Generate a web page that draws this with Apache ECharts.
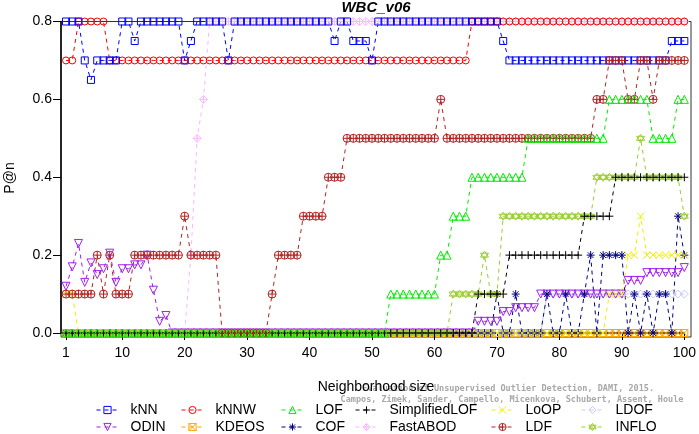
<!DOCTYPE html>
<html>
<head>
<meta charset="utf-8">
<script src="https://cdn.jsdelivr.net/npm/echarts@6.0.0/dist/echarts.min.js"></script>
<style>html,body{margin:0;padding:0;background:#fff;}#c{width:699px;height:434px;}</style>
</head>
<body>
<div id="c"></div>
<script>
// Neighborhood sizes k = 1..100 (categories)
const ks = [];
for (let k = 1; k <= 100; k++) ks.push(String(k));
const xTickLabels = ['1','10','20','30','40','50','60','70','80','90','100'];
const yTicks = [0.0, 0.2, 0.4, 0.6, 0.8];

const kNN = [
 0.8,0.8,0.8,0.7,0.65,0.7,0.7,0.7,0.7,0.8,
 0.8,0.75,0.8,0.8,0.8,0.8,0.8,0.8,0.8,0.7,
 0.75,0.8,0.8,0.8,0.8,0.8,0.7,0.8,0.8,0.8,
 0.8,0.8,0.8,0.8,0.8,0.8,0.8,0.8,0.8,0.8,
 0.8,0.8,0.8,0.75,0.8,0.8,0.75,0.75,0.75,0.7,
 0.8,0.8,0.8,0.8,0.8,0.8,0.8,0.8,0.8,0.8,
 0.8,0.8,0.8,0.8,0.8,0.8,0.8,0.8,0.8,0.8,
 0.75,0.7,0.7,0.7,0.7,0.7,0.7,0.7,0.7,0.7,
 0.7,0.7,0.7,0.7,0.7,0.7,0.7,0.7,0.7,0.7,
 0.7,0.7,0.7,0.7,0.7,0.7,0.7,0.75,0.75,0.75];
const kNNW = [
 0.7,0.7,0.8,0.8,0.8,0.8,0.8,0.7,0.7,0.7,
 0.7,0.7,0.7,0.7,0.7,0.7,0.7,0.7,0.7,0.7,
 0.7,0.7,0.7,0.7,0.7,0.7,0.7,0.7,0.7,0.7,
 0.7,0.7,0.7,0.7,0.7,0.7,0.7,0.7,0.7,0.7,
 0.7,0.7,0.7,0.7,0.7,0.7,0.7,0.7,0.7,0.7,
 0.7,0.7,0.7,0.7,0.7,0.7,0.7,0.7,0.7,0.7,
 0.7,0.7,0.7,0.7,0.7,0.8,0.8,0.8,0.8,0.8,
 0.8,0.8,0.8,0.8,0.8,0.8,0.8,0.8,0.8,0.8,
 0.8,0.8,0.8,0.8,0.8,0.8,0.8,0.8,0.8,0.8,
 0.8,0.8,0.8,0.8,0.8,0.8,0.8,0.8,0.8,0.8];
const LOF = [
 0,0,0,0,0,0,0,0,0,0,
 0,0,0,0,0,0,0,0,0,0,
 0,0,0,0,0,0,0,0,0,0,
 0,0,0,0,0,0,0,0,0,0,
 0,0,0,0,0,0,0,0,0,0,
 0,0,0.1,0.1,0.1,0.1,0.1,0.1,0.1,0.1,
 0.2,0.2,0.3,0.3,0.3,0.4,0.4,0.4,0.4,0.4,
 0.4,0.4,0.4,0.4,0.5,0.5,0.5,0.5,0.5,0.5,
 0.5,0.5,0.5,0.5,0.5,0.5,0.5,0.6,0.6,0.6,
 0.6,0.6,0.6,0.6,0.5,0.5,0.5,0.5,0.6,0.6];
const SimplifiedLOF = [
 0,0,0,0,0,0,0,0,0,0,
 0,0,0,0,0,0,0,0,0,0,
 0,0,0,0,0,0,0,0,0,0,
 0,0,0,0,0,0,0,0,0,0,
 0,0,0,0,0,0,0,0,0,0,
 0,0,0,0,0,0,0,0,0,0,
 0,0,0,0,0,0,0.1,0.1,0.1,0.1,
 0.1,0.2,0.2,0.2,0.2,0.2,0.2,0.2,0.2,0.2,
 0.2,0.2,0.2,0.3,0.3,0.3,0.3,0.3,0.4,0.4,
 0.4,0.4,0.4,0.4,0.4,0.4,0.4,0.4,0.4,0.4];
const LoOP = [
 0.1,0.1,0,0,0,0,0,0,0,0,
 0,0,0,0,0,0,0,0,0,0,
 0,0,0,0,0,0,0,0,0,0,
 0,0,0,0,0,0,0,0,0,0,
 0,0,0,0,0,0,0,0,0,0,
 0,0,0,0,0,0,0,0,0,0,
 0,0,0,0,0,0,0,0,0,0,
 0,0,0,0,0,0,0,0,0,0,
 0,0,0,0,0,0,0,0.1,0.1,0.1,
 0.2,0.2,0.3,0.2,0.2,0.2,0.2,0.2,0.2,0.2];
const LDOF = [
 0,0,0,0,0,0,0,0,0,0,
 0,0,0,0,0,0,0,0,0,0,
 0,0,0,0,0,0,0,0,0,0,
 0,0,0,0,0,0,0,0,0,0,
 0,0,0,0,0,0,0,0,0,0,
 0,0,0,0,0,0,0,0,0,0,
 0,0,0,0,0,0,0,0,0,0,
 0,0,0,0,0,0,0,0.1,0.1,0.1,
 0.1,0.1,0.1,0.1,0.1,0.1,0.1,0.1,0.1,0.1,
 0.1,0.1,0.1,0.1,0.1,0.1,0.1,0.1,0.1,0.1];
const ODIN = [
 0.12,0.17,0.23,0.13,0.18,0.15,0.165,0.205,0.13,0.165,
 0.165,0.175,0.175,0.2,0.11,0.03,0.045,0,0,0,
 0,0,0,0,0,0,0,0,0,0,
 0,0,0,0,0,0,0,0,0,0,
 0,0,0,0,0,0,0,0,0,0,
 0,0,0,0,0,0,0,0,0,0,
 0,0,0,0,0,0,0.03,0.03,0.03,0.03,
 0.055,0.055,0.065,0.065,0.065,0.065,0.1,0.1,0.1,0.1,
 0.1,0.1,0.1,0.1,0.1,0.1,0.1,0.1,0.1,0.1,
 0.135,0.135,0.135,0.155,0.155,0.155,0.155,0.155,0.155,0.168];
const KDEOS = [
 0,0,0,0,0,0,0,0,0,0,
 0,0,0,0,0,0,0,0,0,0,
 0,0,0,0,0,0,0,0,0,0,
 0,0,0,0,0,0,0,0,0,0,
 0,0,0,0,0,0,0,0,0,0,
 0,0,0,0,0,0,0,0,0,0,
 0,0,0,0,0,0,0,0,0,0,
 0,0,0,0,0,0,0,0,0,0,
 0,0,0,0,0,0,0,0,0,0,
 0,0,0,0,0,0,0,0,0,0];
const COF = [
 0,0,0,0,0,0,0,0,0,0,
 0,0,0,0,0,0,0,0,0,0,
 0,0,0,0,0,0,0,0,0,0,
 0,0,0,0,0,0,0,0,0,0,
 0,0,0,0,0,0,0,0,0,0,
 0,0,0,0,0,0,0,0,0,0,
 0,0,0,0,0,0,0,0,0,0.1,
 0,0,0.1,0,0,0,0,0.1,0,0,
 0.1,0,0,0.1,0.2,0,0.2,0.2,0.2,0.2,
 0,0.1,0,0.1,0,0.1,0.1,0,0.3,0.2];
const FastABOD = [
 0,0,0,0,0,0,0,0,0,0,
 0,0,0,0,0,0,0,0,0,0,
 0.2,0.5,0.6,0.8,0.8,0.8,0.8,0.8,0.8,0.8,
 0.8,0.8,0.8,0.8,0.8,0.8,0.8,0.8,0.8,0.8,
 0.8,0.8,0.8,0.8,0.8,0.8,0.8,0.8,0.8,0.8,
 0.8,0.8,0.8,0.8,0.8,0.8,0.8,0.8,0.8,0.8,
 0.8,0.8,0.8,0.8,0.8,0.8,0.8,0.8,0.8,0.8,
 0.8,0.8,0.8,0.8,0.8,0.8,0.8,0.8,0.8,0.8,
 0.8,0.8,0.8,0.8,0.8,0.8,0.8,0.8,0.8,0.8,
 0.8,0.8,0.8,0.8,0.8,0.8,0.8,0.8,0.8,0.8];
const LDF = [
 0.1,0.1,0.1,0.1,0.1,0.2,0.1,0.2,0.1,0.1,
 0.1,0.2,0.2,0.2,0.2,0.2,0.2,0.2,0.2,0.3,
 0.2,0.2,0.2,0.2,0.2,0,0,0,0,0,
 0,0,0,0.1,0.2,0.2,0.2,0.2,0.3,0.3,
 0.3,0.3,0.4,0.4,0.4,0.5,0.5,0.5,0.5,0.5,
 0.5,0.5,0.5,0.5,0.5,0.5,0.5,0.5,0.5,0.5,
 0.6,0.5,0.5,0.5,0.5,0.5,0.5,0.5,0.5,0.5,
 0.5,0.5,0.5,0.5,0.5,0.5,0.5,0.5,0.5,0.5,
 0.5,0.5,0.5,0.5,0.5,0.6,0.6,0.7,0.7,0.7,
 0.6,0.6,0.7,0.7,0.6,0.7,0.7,0.7,0.7,0.7];
const INFLO = [
 0,0,0,0,0,0,0,0,0,0,
 0,0,0,0,0,0,0,0,0,0,
 0,0,0,0,0,0,0,0,0,0,
 0,0,0,0,0,0,0,0,0,0,
 0,0,0,0,0,0,0,0,0,0,
 0,0,0,0,0,0,0,0,0,0,
 0,0,0.1,0.1,0.1,0.1,0.1,0.2,0.1,0.1,
 0.3,0.3,0.3,0.3,0.3,0.3,0.3,0.3,0.3,0.3,
 0.3,0.3,0.3,0.3,0.3,0.4,0.4,0.4,0.4,0.4,
 0.4,0.4,0.5,0.4,0.4,0.4,0.4,0.4,0.4,0.3];

const FONT = 'Liberation Sans, Arial, sans-serif';
const SYM = {
  square: 'rect',
  circle: 'circle',
  tri: 'triangle',
  plus: 'path://M5,0L5,10M0,5L10,5',
  cross: 'path://M0,0L10,10M0,10L10,0',
  diamond: 'diamond',
  sqx: 'path://M0,0L10,0L10,10L0,10ZM0,0L10,10M0,10L10,0',
  ast: 'path://M5,0L5,10M0,5L10,5M1.5,1.5L8.5,8.5M1.5,8.5L8.5,1.5',
  diaplus: 'path://M5,0L10,5L5,10L0,5ZM5,0L5,10M0,5L10,5',
  ciplus: 'path://M0,5A5,5,0,1,1,10,5A5,5,0,1,1,0,5ZM5,0L5,10M0,5L10,5',
  star: 'path://M5,0L9.33,7.5L0.67,7.5ZM5,10L0.67,2.5L9.33,2.5Z'
};

const COLORS = {};
function mk(name, data, color, symbol, size, rotate) {
  COLORS[name] = color;
  return {
    name: name, type: 'line', data: data,
    symbol: symbol, symbolSize: size, symbolRotate: rotate || 0,
    symbolKeepAspect: false, showAllSymbol: true, clip: false,
    color: color,
    itemStyle: { color: 'rgba(0,0,0,0)', borderColor: color, borderWidth: 1 },
    lineStyle: { color: color, width: 1, type: [4, 4] },
    emphasis: { disabled: true }, animation: false
  };
}

// draw order: first = bottom
const series = [
  mk('FastABOD', FastABOD, '#ffb8ff', SYM.diaplus, 8),
  mk('kNNW', kNNW, '#ff0000', SYM.circle, 7),
  mk('kNN', kNN, '#0000ff', SYM.square, 7),
  mk('KDEOS', KDEOS, '#ffa500', SYM.sqx, 7),
  mk('LDOF', LDOF, '#c8c8ff', SYM.diamond, 8),
  mk('ODIN', ODIN, '#a020f0', SYM.tri, 8, 180),
  mk('COF', COF, '#000080', SYM.ast, 8),
  mk('LoOP', LoOP, '#f0f000', SYM.cross, 7),
  mk('INFLO', INFLO, '#9acd32', SYM.star, 8),
  mk('SimplifiedLOF', SimplifiedLOF, '#000000', SYM.plus, 8),
  mk('LDF', LDF, '#b22222', SYM.ciplus, 8),
  mk('LOF', LOF, '#00ee00', SYM.tri, 8)
];

const legendCols = [['kNN','ODIN'],['kNNW','KDEOS'],['LOF','COF'],['SimplifiedLOF','FastABOD'],['LoOP','LDF'],['LDOF','INFLO']];
const legendLefts = [96, 181, 281, 355, 491, 581];
const legends = legendCols.map((d, i) => ({
  data: d.map(n => ({
    name: n,
    itemStyle: { color: 'rgba(0,0,0,0)', borderColor: COLORS[n], borderWidth: 1 },
    lineStyle: { color: COLORS[n], width: 1, type: [4, 4] }
  })),
  orient: 'vertical', left: legendLefts[i], top: 402, width: 130, height: 60,
  itemWidth: 22, itemHeight: 9, itemGap: 1, padding: 0, selectedMode: false,
  textStyle: { fontSize: 14, color: '#000', fontFamily: FONT, lineHeight: 16, padding: [0, 0, 0, 7] }
}));

function showTick(index, value) { return xTickLabels.indexOf(String(value)) >= 0; }

const chart = echarts.init(document.getElementById('c'), null, { renderer: 'canvas' });
chart.setOption({
  backgroundColor: '#fff',
  animation: false,
  grid: { left: 66, right: 13, top: 21.5, bottom: 101, containLabel: false },
  xAxis: {
    type: 'category', data: ks, boundaryGap: false, offset: 4,
    axisLine: { show: true, lineStyle: { color: '#000', width: 1.5 } },
    axisTick: { show: true, length: 7, interval: showTick, lineStyle: { color: '#000', width: 1 } },
    axisLabel: { interval: showTick, fontSize: 14, color: '#000', fontFamily: FONT, margin: 9 },
    splitLine: { show: false }
  },
  yAxis: {
    type: 'value', min: yTicks[0], max: yTicks[yTicks.length - 1], interval: 0.2, offset: 5,
    axisLine: { show: true, lineStyle: { color: '#000', width: 1.5 } },
    axisTick: { show: true, length: 8, lineStyle: { color: '#000', width: 1 } },
    axisLabel: { fontSize: 14, color: '#000', fontFamily: FONT, margin: 9, formatter: v => v.toFixed(1) },
    splitLine: { show: false }
  },
  legend: legends,
  series: series,
  graphic: [
    { type: 'rect', z: -1, shape: { x: 61, y: 21.5, width: 630, height: 315.5 }, style: { fill: 'none', stroke: '#333', lineWidth: 1 } },
    { type: 'text', z: 1, x: 376, y: 8, style: { text: 'WBC_v06', font: 'italic bold 15px ' + FONT, fill: '#000', textAlign: 'center', textVerticalAlign: 'middle' } },
    { type: 'text', z: 1, x: 10, y: 178, rotation: Math.PI / 2, style: { text: 'P@n', font: '14px ' + FONT, fill: '#000', textAlign: 'center', textVerticalAlign: 'middle' } },
    { type: 'text', z: 0, x: 654, y: 389, style: { text: 'Evaluation of Unsupervised Outlier Detection, DAMI, 2015.', font: 'bold 8.5px DejaVu Sans Mono, monospace', fill: '#a8a8a8', textAlign: 'right', textVerticalAlign: 'middle' } },
    { type: 'text', z: 0, x: 512, y: 399.5, style: { text: 'Campos, Zimek, Sander, Campello, Micenkova, Schubert, Assent, Houle', font: 'bold 8.5px DejaVu Sans Mono, monospace', fill: '#a8a8a8', textAlign: 'center', textVerticalAlign: 'middle' } },
    { type: 'text', z: 2, x: 376, y: 387, style: { text: 'Neighborhood size', font: '14px ' + FONT, fill: '#000', textAlign: 'center', textVerticalAlign: 'middle' } }
  ]
});
</script>
</body>
</html>
